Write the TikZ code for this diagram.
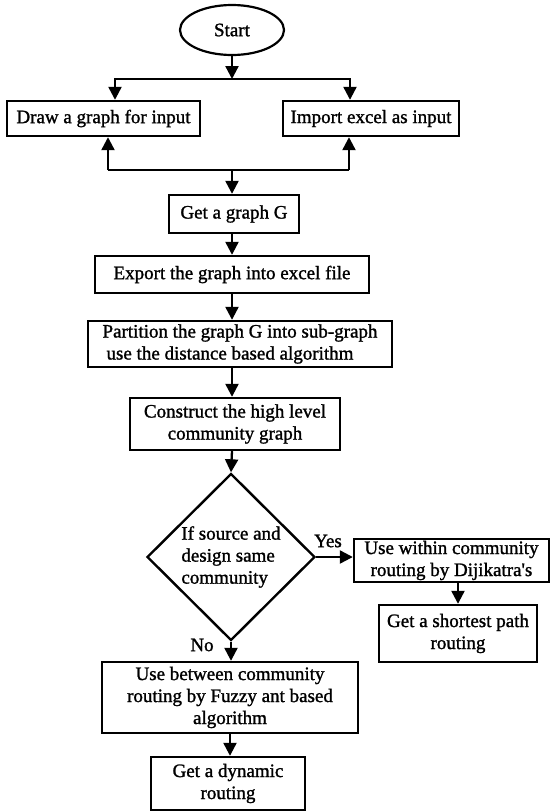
\documentclass[tikz,border=0pt]{standalone}
\usepackage{fontspec}
\setmainfont{Liberation Serif}[BoldFont=Liberation Serif, BoldFeatures={FakeBold=1.3}]
\usetikzlibrary{arrows.meta,shapes.geometric}

\newcommand{\flowfont}{\fontsize{19pt}{22pt}\selectfont\bfseries}

\tikzset{
  stepbox/.style={draw, line width=2.4pt, rectangle, inner sep=0pt, align=center, font=\flowfont},
  termbox/.style={draw, line width=2.2pt, ellipse, inner sep=0pt, font=\flowfont},
  decbox/.style={draw, line width=2.4pt, diamond, inner sep=0pt, align=left, font=\flowfont},
  arr/.style={line width=2.3pt, -{Triangle[length=13pt,width=13pt]}},
  plain/.style={line width=2.3pt},
  lbl/.style={font=\flowfont, inner sep=0pt}
}

\begin{document}
\begin{tikzpicture}[x=1pt, y=-1pt]
  \useasboundingbox (0,0) rectangle (552,812);

  % nodes
  \node[termbox, minimum width=104pt, minimum height=50pt] (start) at (232,30) {Start};
  \node[stepbox, minimum width=193pt, minimum height=35pt] (drawin) at (103.5,118.5) {Draw a graph for input};
  \node[stepbox, minimum width=176pt, minimum height=35pt] (importin) at (371,118.5) {Import excel as input};
  \node[stepbox, minimum width=130pt, minimum height=38pt] (getg) at (234,214) {Get a graph G};
  \node[stepbox, minimum width=274pt, minimum height=37pt] (export) at (232,274.5) {Export the graph into excel file};
  \node[stepbox, minimum width=304pt, minimum height=46pt, align=left] (part) at (240,344)
    {Partition the graph G into sub-graph\\\hspace{4pt}use the distance based algorithm};
  \node[stepbox, minimum width=210pt, minimum height=52pt] (cons) at (235,424)
    {Construct the high level\\community graph};
  \node[decbox, minimum width=168pt, minimum height=167pt] (dec) at (231,557)
    {If source and\\design same\\community};
  \node[stepbox, minimum width=195pt, minimum height=43pt] (within) at (451.5,560.5)
    {Use within community\\routing by Dijikatra\textquotesingle s};
  \node[stepbox, minimum width=158pt, minimum height=57pt] (short) at (458,633.5)
    {Get a shortest path\\routing};
  \node[stepbox, minimum width=256pt, minimum height=71pt] (betw) at (230,697.5)
    {Use between community\\routing by Fuzzy ant based\\algorithm};
  \node[stepbox, minimum width=154pt, minimum height=53pt] (dyn) at (228,783.5)
    {Get a dynamic\\routing};

  % junction points of the split and merge lines
  \coordinate (jtop) at (232,79);
  \coordinate (jtl) at (115,79);
  \coordinate (jtr) at (350,79);
  \coordinate (jbot) at (232,170);
  \coordinate (jbl) at (108,170);
  \coordinate (jbr) at (349,170);

  % split after Start
  \draw[arr] (start) -- (jtop);
  \draw[arr] (jtop) -- (jtl) -- (jtl |- drawin.north);
  \draw[arr] (jtop) -- (jtr) -- (jtr |- importin.north);

  % merge line feeding the graph
  \draw[plain] (jbl) -- (jbr);
  \draw[arr] (jbl) -- (jbl |- drawin.south);
  \draw[arr] (jbr) -- (jbr |- importin.south);
  \draw[arr] (jbot) -- (jbot |- getg.north);

  % main column
  \draw[arr] (getg.south -| export) -- (export.north);
  \draw[arr] (export.south) -- (export.south |- part.north);
  \draw[arr] (part.south -| export) -- (cons.north -| export);
  \draw[arr] (cons.south -| export) -- (dec.north);

  % decision branches
  \draw[arr] (dec.east) -- (within.west |- dec.east);
  \node[lbl] (yes) at (328,541) {Yes};
  \draw[arr] (within.south -| short) -- (short.north);
  \draw[arr] (dec.south) -- (dec.south |- betw.north);
  \node[lbl] (no) at (202,645) {No};
  \draw[arr] (betw.south) -- (betw.south |- dyn.north);
\end{tikzpicture}
\end{document}
